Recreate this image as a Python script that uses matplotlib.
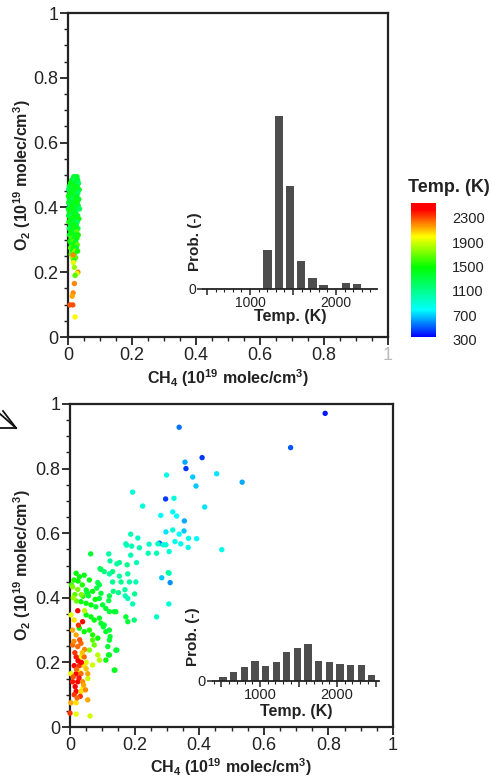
import matplotlib
matplotlib.use('Agg')
import matplotlib.pyplot as plt
from matplotlib.colors import LinearSegmentedColormap, Normalize
from matplotlib.cm import ScalarMappable
from matplotlib.ticker import MultipleLocator, FixedLocator, FixedFormatter
from matplotlib.lines import Line2D
import matplotlib.transforms as mtransforms

plt.rcParams['font.family'] = ['Liberation Sans', 'DejaVu Sans']
plt.rcParams['mathtext.default'] = 'regular'

# ---------------- data ----------------
axis_ticks = [0, 0.2, 0.4, 0.6, 0.8, 1]
axis_ticklabels = ['0', '0.2', '0.4', '0.6', '0.8', '1']
cbar_ticks = [300, 700, 1100, 1500, 1900, 2300]

# top panel scatter (CH4, O2, Temperature)
top_ch4 = [0.018, 0.028, 0.012, 0.022, 0.030, 0.008, 0.017, 0.026, 0.033, 0.004,
           0.013, 0.021, 0.029, 0.002, 0.010, 0.019, 0.027, 0.035, 0.006, 0.015,
           0.024, 0.031, 0.001, 0.011, 0.020, 0.028, 0.005, 0.016, 0.025, 0.034,
           0.002, 0.009, 0.019, 0.029, 0.006, 0.014, 0.023, 0.032, 0.001, 0.010,
           0.018, 0.027, 0.036, 0.005, 0.015, 0.024, 0.002, 0.011, 0.020, 0.030,
           0.007, 0.016, 0.025, 0.034, 0.003, 0.012, 0.021, 0.029, 0.008, 0.017,
           0.026, 0.004, 0.013, 0.022, 0.031, 0.009, 0.018, 0.027, 0.005, 0.014,
           0.023, 0.032, 0.010, 0.019, 0.028, 0.006, 0.015, 0.024, 0.011, 0.020,
           0.029, 0.008, 0.017, 0.026, 0.013, 0.022, 0.030, 0.010, 0.019, 0.014,
           0.024, 0.018, 0.016, 0.017, 0.031, 0.028, 0.022, 0.020, 0.016, 0.013,
           0.006, 0.015, 0.022, 0.020]
top_o2 = [0.495, 0.495, 0.485, 0.485, 0.485, 0.475, 0.475, 0.475, 0.475, 0.465,
          0.465, 0.465, 0.465, 0.455, 0.455, 0.455, 0.455, 0.455, 0.445, 0.445,
          0.445, 0.445, 0.435, 0.435, 0.435, 0.435, 0.425, 0.425, 0.425, 0.425,
          0.415, 0.415, 0.415, 0.415, 0.405, 0.405, 0.405, 0.405, 0.395, 0.395,
          0.395, 0.395, 0.395, 0.385, 0.385, 0.385, 0.375, 0.375, 0.375, 0.375,
          0.365, 0.365, 0.365, 0.365, 0.355, 0.355, 0.355, 0.355, 0.345, 0.345,
          0.345, 0.335, 0.335, 0.335, 0.335, 0.325, 0.325, 0.325, 0.315, 0.315,
          0.315, 0.315, 0.305, 0.305, 0.305, 0.295, 0.295, 0.295, 0.285, 0.285,
          0.285, 0.275, 0.275, 0.275, 0.265, 0.265, 0.265, 0.255, 0.255, 0.245,
          0.245, 0.235, 0.253, 0.230, 0.200, 0.196, 0.190, 0.165, 0.136, 0.126,
          0.099, 0.099, 0.062, 0.215]
top_temp = [1330, 1330, 1330, 1200, 1330, 1470, 1330, 1330, 1200, 1330,
            1330, 1470, 1330, 1200, 1330, 1330, 1470, 1330, 1330, 1470,
            1330, 1200, 1470, 1330, 1330, 1330, 1330, 1200, 1470, 1330,
            1330, 1330, 1330, 1470, 1200, 1470, 1330, 1330, 1330, 1330,
            1470, 1330, 1200, 1470, 1330, 1330, 1330, 1200, 1470, 1330,
            1330, 1470, 1330, 1470, 1470, 1330, 1330, 1200, 1330, 1470,
            1330, 1200, 1330, 1470, 1330, 1470, 1330, 1600, 1330, 1470,
            1330, 1470, 1600, 1330, 1470, 1470, 1600, 1330, 1330, 1470,
            1600, 1600, 1470, 1330, 1470, 1740, 1470, 1600, 1470, 1740,
            1600, 1470, 2150, 1900, 2150, 1880, 1600, 2150, 2150, 2100,
            2250, 2250, 1950, 1740]

# bottom panel scatter (CH4, O2, Temperature)
bot_ch4 = [
    # blue / cyan group
    0.790, 0.683, 0.338, 0.356, 0.359, 0.409, 0.380, 0.454, 0.533, 0.390,
    0.417, 0.299, 0.194, 0.225, 0.296, 0.322, 0.318, 0.330, 0.281, 0.354,
    0.297, 0.318, 0.353, 0.338, 0.367, 0.392, 0.325, 0.277, 0.289, 0.307,
    0.343, 0.366, 0.470, 0.284, 0.307, 0.310, 0.306, 0.268,
    # cyan-green group
    0.188, 0.175, 0.191, 0.215, 0.245, 0.242, 0.268, 0.188, 0.120, 0.124,
    0.153, 0.177, 0.132, 0.206, 0.304, 0.173, 0.272, 0.297, 0.122, 0.153,
    0.179, 0.132, 0.158, 0.184, 0.204, 0.134, 0.150, 0.170, 0.200, 0.171,
    0.179, 0.194, 0.199, 0.096, 0.106, 0.145, 0.210,
    # green group
    0.064, 0.093, 0.086, 0.091, 0.122, 0.120, 0.096, 0.091, 0.019, 0.029,
    0.044, 0.050, 0.055, 0.034, 0.050, 0.065, 0.080, 0.101, 0.111, 0.122,
    0.137, 0.050, 0.065, 0.075, 0.091, 0.096, 0.142, 0.173, 0.179, 0.029,
    0.044, 0.060, 0.070, 0.086, 0.106, 0.111, 0.122, 0.122, 0.117, 0.142,
    0.122, 0.111, 0.137, 0.052, 0.057, 0.083, 0.103, 0.124, 0.145, 0.119,
    0.139, 0.012, 0.005, 0.025, 0.038, 0.070, 0.078, 0.040, 0.015, 0.060,
    # yellow group
    0.008, 0.024, 0.003, 0.013, 0.070, 0.075, 0.060, 0.086, 0.091, 0.070,
    0.020, 0.035, 0.045, 0.010, 0.050, 0.030, 0.062, 0.019, 0.040, 0.055,
    0.003, 0.034,
    # orange / red group
    0.024, 0.039, 0.008, 0.019, 0.008, 0.024, 0.034, 0.019, 0.044, 0.013,
    0.029, 0.044, 0.019, 0.034, 0.055, 0.008, 0.024, 0.039, 0.019, 0.034,
    0.013, 0.003, 0.019, 0.000, 0.055, 0.030, 0.045, 0.015, 0.025, 0.050,
    0.020, 0.035, 0.010, 0.028, 0.042, 0.016, 0.032, 0.048, 0.022, 0.038,
    0.012, 0.026]
bot_o2 = [
    0.971, 0.865, 0.928, 0.820, 0.800, 0.834, 0.774, 0.784, 0.758, 0.746,
    0.681, 0.780, 0.727, 0.684, 0.706, 0.708, 0.666, 0.653, 0.655, 0.638,
    0.604, 0.610, 0.607, 0.597, 0.584, 0.583, 0.574, 0.569, 0.564, 0.543,
    0.567, 0.556, 0.549, 0.462, 0.476, 0.447, 0.381, 0.341,
    0.597, 0.563, 0.560, 0.555, 0.566, 0.538, 0.538, 0.532, 0.536, 0.514,
    0.509, 0.502, 0.481, 0.509, 0.478, 0.567, 0.567, 0.564, 0.474, 0.467,
    0.474, 0.449, 0.449, 0.449, 0.449, 0.420, 0.416, 0.425, 0.412, 0.406,
    0.398, 0.381, 0.331, 0.488, 0.481, 0.505, 0.585,
    0.536, 0.490, 0.447, 0.440, 0.406, 0.391, 0.414, 0.398, 0.476, 0.465,
    0.470, 0.424, 0.414, 0.388, 0.383, 0.378, 0.372, 0.378, 0.367, 0.357,
    0.357, 0.347, 0.341, 0.331, 0.337, 0.321, 0.357, 0.341, 0.326, 0.306,
    0.295, 0.300, 0.285, 0.275, 0.316, 0.295, 0.300, 0.269, 0.249, 0.238,
    0.223, 0.207, 0.176, 0.418, 0.406, 0.430, 0.310, 0.280, 0.238, 0.223,
    0.176, 0.455, 0.440, 0.452, 0.440, 0.420, 0.395, 0.405, 0.410, 0.455,
    0.434, 0.426, 0.347, 0.331, 0.269, 0.254, 0.238, 0.223, 0.207, 0.192,
    0.390, 0.410, 0.360, 0.400, 0.200, 0.170, 0.034, 0.040, 0.120, 0.150,
    0.165, 0.217,
    0.360, 0.326, 0.300, 0.285, 0.254, 0.249, 0.259, 0.217, 0.217, 0.190,
    0.190, 0.190, 0.165, 0.165, 0.165, 0.140, 0.140, 0.140, 0.110, 0.110,
    0.100, 0.075, 0.075, 0.043, 0.084, 0.270, 0.240, 0.230, 0.205, 0.180,
    0.178, 0.200, 0.155, 0.152, 0.130, 0.125, 0.095, 0.115, 0.090, 0.230,
    0.265, 0.315]
bot_temp = [
    350, 450, 500, 600, 400, 400, 650, 700, 600, 650,
    700, 800, 850, 850, 400, 850, 750, 750, 750, 600,
    700, 850, 650, 750, 800, 750, 800, 450, 850, 850,
    800, 800, 800, 650, 850, 550, 850, 900,
    950, 950, 950, 950, 900, 950, 950, 950, 1000, 1000,
    1050, 1050, 1100, 950, 1000, 950, 900, 850, 1000, 1000,
    1000, 1050, 1050, 1000, 950, 1100, 1050, 1000, 1050, 950,
    950, 950, 1100, 1100, 1100, 1000, 900,
    1300, 1200, 1250, 1250, 1250, 1250, 1300, 1300, 1400, 1400,
    1400, 1350, 1350, 1400, 1400, 1400, 1300, 1300, 1300, 1300,
    1300, 1400, 1400, 1400, 1350, 1350, 1300, 1300, 1300, 1450,
    1450, 1500, 1500, 1450, 1300, 1300, 1300, 1300, 1300, 1300,
    1350, 1400, 1350, 1300, 1300, 1250, 1300, 1300, 1300, 1350,
    1350, 1500, 1550, 1450, 1500, 1400, 1450, 1500, 1600, 1400,
    1700, 1700, 1900, 2000, 1600, 1650, 1700, 1800, 1800, 1850,
    1650, 1700, 1800, 1750, 1900, 1950, 1850, 1900, 1950, 1850,
    1900, 1900,
    2400, 2400, 2100, 2100, 2200, 2200, 2200, 2350, 2200, 2400,
    2300, 2000, 2400, 2200, 2100, 2350, 2450, 2150, 2400, 2000,
    2300, 2100, 2000, 2300, 2100, 2250, 2150, 2300, 2400, 2050,
    2200, 2450, 2250, 2350, 2100, 2400, 2300, 2150, 2200, 2050,
    2150, 2300]

# inset histograms
top_hist_temp = [1205, 1335, 1465, 1595, 1725, 1855, 2115, 2245]
top_hist_prob = [0.106, 0.469, 0.280, 0.075, 0.029, 0.012, 0.016, 0.013]
bot_hist_temp = [520, 658, 796, 934, 1072, 1210, 1348, 1486, 1624, 1762,
                 1900, 2038, 2176, 2314, 2452]
bot_hist_prob = [0.016, 0.034, 0.050, 0.073, 0.055, 0.068, 0.105, 0.122,
                 0.135, 0.073, 0.068, 0.062, 0.059, 0.059, 0.021]

# ---------------- figure ----------------
W, H = 492, 780
fig = plt.figure(figsize=(W / 100, H / 100), dpi=100)


def px_axes(x0, y0, x1, y1):
    return fig.add_axes([x0 / W, 1 - y1 / H, (x1 - x0) / W, (y1 - y0) / H])


cmap = LinearSegmentedColormap.from_list(
    'tp_rainbow',
    [(0.0, '#0000ff'), (0.2, '#00ffff'), (0.52, '#00ff00'),
     (0.75, '#ffff00'), (0.95, '#ff0000'), (1.0, '#ff0000')])
norm = Normalize(300, 2500)
TXT = '#222222'


def style_main(ax):
    ax.set_xlim(0, 1)
    ax.set_ylim(0, 1)
    for axis in (ax.xaxis, ax.yaxis):
        axis.set_major_locator(FixedLocator(axis_ticks))
        axis.set_major_formatter(FixedFormatter(axis_ticklabels))
        axis.set_minor_locator(MultipleLocator(0.05))
    ax.tick_params(which='major', direction='out', length=5.5, width=1.3,
                   labelsize=13, pad=1.5, colors=TXT)
    ax.tick_params(which='minor', direction='out', length=3.2, width=1.0,
                   colors=TXT)
    for sp in ax.spines.values():
        sp.set_linewidth(1.6)
        sp.set_color(TXT)
    ax.set_xlabel(r'CH$_4$ (10$^{19}$ molec/cm$^3$)', fontsize=11.5,
                  fontweight='bold', color=TXT)
    ax.set_ylabel(r'O$_2$ (10$^{19}$ molec/cm$^3$)', fontsize=11.5,
                  fontweight='bold', color=TXT)


def style_inset(ax, xlim, ylim, labelsize, xl_y, yl_x, yl_y):
    ax.set_facecolor('none')
    ax.set_xlim(*xlim)
    ax.set_ylim(*ylim)
    for s in ('left', 'right', 'top'):
        ax.spines[s].set_visible(False)
    ax.spines['bottom'].set_linewidth(1.3)
    ax.spines['bottom'].set_color(TXT)
    ax.xaxis.set_major_locator(FixedLocator([500, 1000, 1500, 2000, 2500]))
    ax.xaxis.set_major_formatter(FixedFormatter(['', '1000', '', '2000', '']))
    ax.xaxis.set_minor_locator(MultipleLocator(100))
    ax.yaxis.set_major_locator(FixedLocator([0]))
    ax.yaxis.set_major_formatter(FixedFormatter(['0']))
    ax.tick_params(which='major', direction='out', length=4, width=1.1,
                   labelsize=labelsize, pad=1, colors=TXT)
    ax.tick_params(which='minor', direction='out', length=2, width=0.8,
                   colors=TXT)
    ax.set_xlabel('Temp. (K)', fontsize=11.5, fontweight='bold', color=TXT)
    ax.set_ylabel('Prob. (-)', fontsize=11, fontweight='bold', color=TXT)
    ax.xaxis.set_label_coords(0.5, xl_y)
    ax.yaxis.set_label_coords(yl_x, yl_y)


# top panel
ax1 = px_axes(68, 13, 388, 337)
style_main(ax1)
ax1.scatter(top_ch4, top_o2, c=top_temp, cmap=cmap, norm=norm, s=15,
            linewidths=0, zorder=3, clip_on=False)
ax1.xaxis.set_label_coords(0.5, -(367 - 337) / 324)
ax1.yaxis.set_label_coords((33 - 68) / 320, 0.5)
ax1.get_xticklabels()[-1].set_color('#bbbbbb')

# bottom panel
ax2 = px_axes(70, 404, 393, 727)
style_main(ax2)
ax2.scatter(bot_ch4, bot_o2, c=bot_temp, cmap=cmap, norm=norm, s=15,
            linewidths=0, zorder=3, clip_on=False)
ax2.xaxis.set_label_coords(0.5, -(756 - 727) / 323)
ax2.yaxis.set_label_coords((33 - 70) / 323, 0.5)

# insets
in1 = px_axes(203, 115, 377, 289)
in1.bar(top_hist_temp, top_hist_prob, width=100, color='#4d4d4d', linewidth=0)
style_inset(in1, (453, 2477), (0, 0.472), 10, -(309 - 289) / 174,
            (202 - 203) / 174, (289 - 242) / 174)

in2 = px_axes(213, 600, 379, 681)
in2.bar(bot_hist_temp, bot_hist_prob, width=95, color='#4d4d4d', linewidth=0)
style_inset(in2, (390, 2545), (0, 0.296), 10.5, -(704 - 681) / 81,
            (200 - 213) / 166, (681 - 637) / 81)

# colorbar
cax = px_axes(411, 203, 436, 337)
cb = fig.colorbar(ScalarMappable(norm=norm, cmap=cmap), cax=cax)
cb.outline.set_visible(False)
cb.set_ticks([])
off = mtransforms.ScaledTranslation(0, -4 / 100, fig.dpi_scale_trans)
tr = mtransforms.blended_transform_factory(cax.transAxes, cax.transData) + off
for v in cbar_ticks:
    cax.text((452 - 411) / 25, v, str(v), transform=tr, va='center',
             ha='left', fontsize=10.5, color=TXT, clip_on=False)
fig.text(408 / W, 1 - 187 / H, 'Temp. (K)', fontsize=13, fontweight='bold',
         va='center', ha='left', color=TXT)


# open arrow head at the left edge (pixel coordinates, y from top)
def fig_line(xs, ys):
    fig.add_artist(Line2D([x / W for x in xs], [1 - y / H for y in ys],
                          transform=fig.transFigure, color='#111111', lw=1.3))


fig_line([-10, 16], [405, 428])
fig_line([0, 16], [428, 428])
fig_line([3, 16], [411, 428])

fig.savefig('out.png', dpi=100)
